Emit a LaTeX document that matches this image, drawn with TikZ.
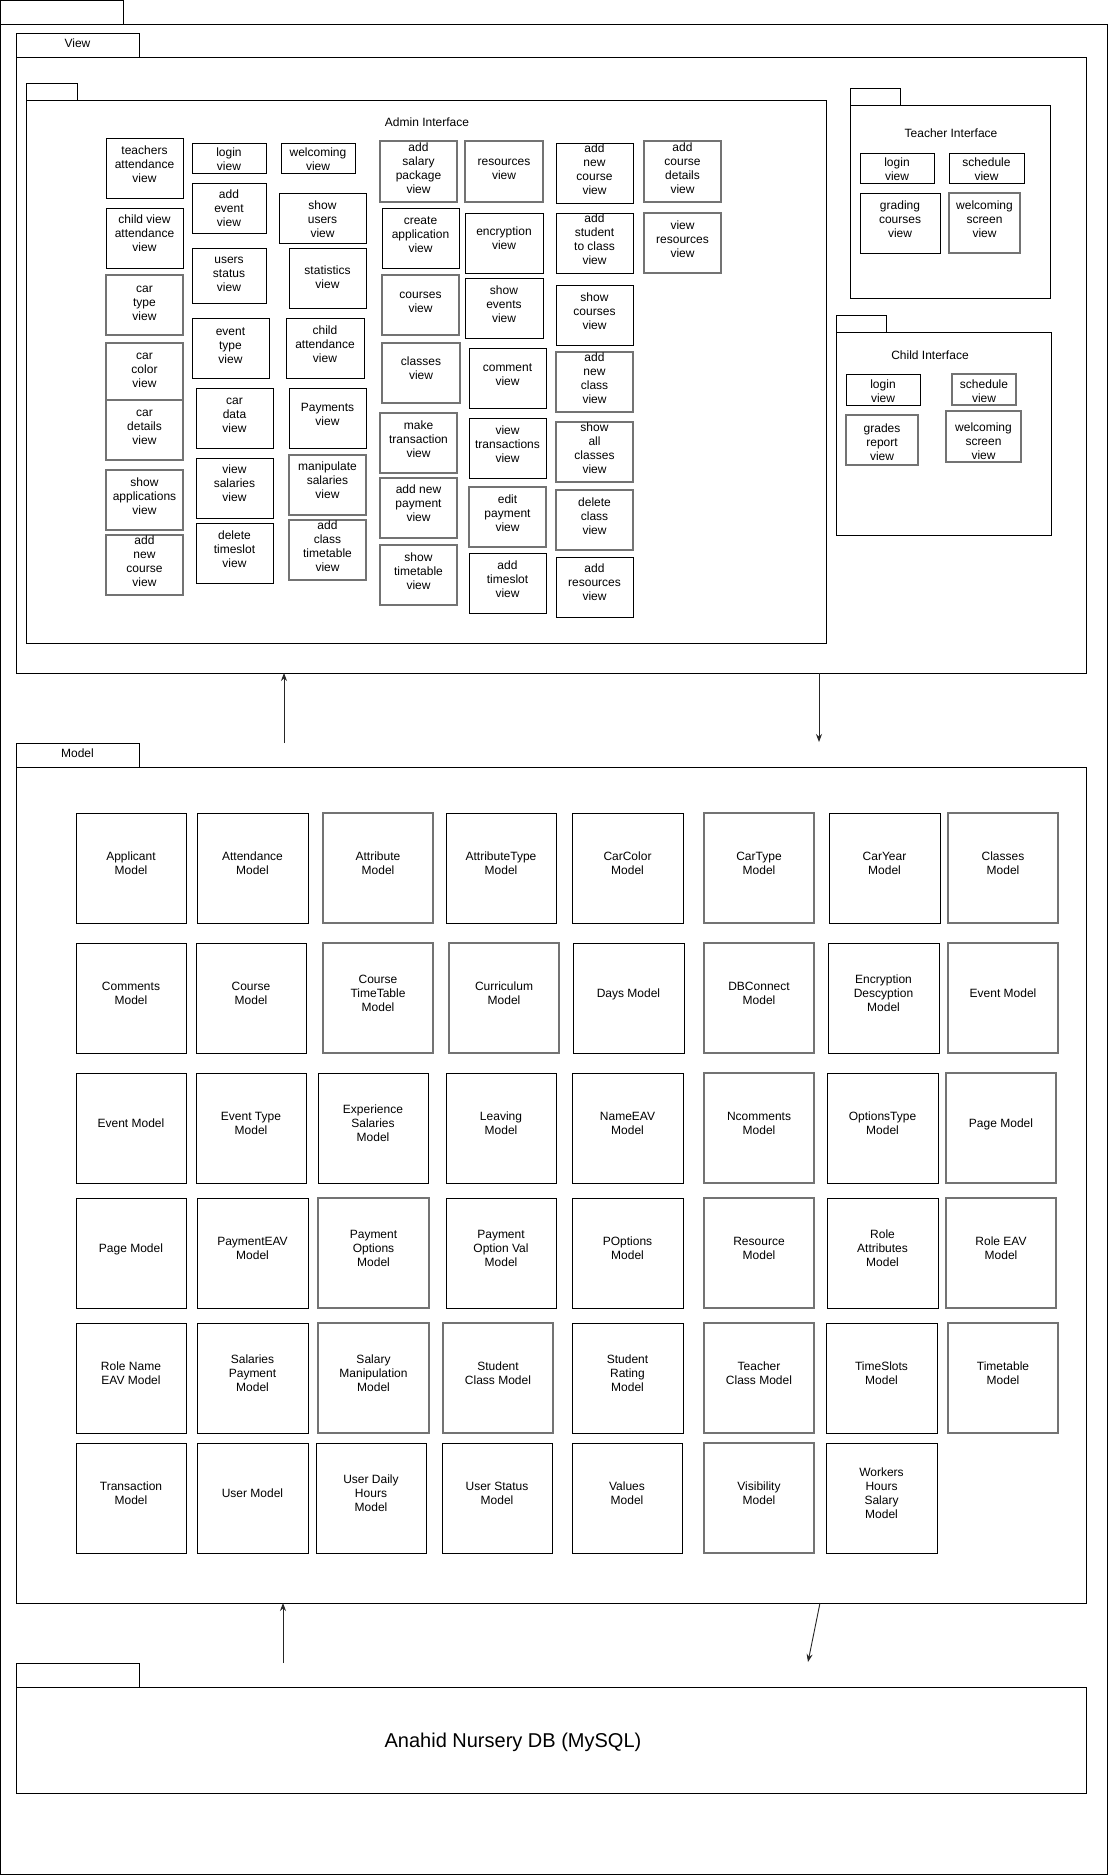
\documentclass[tikz,border=0pt]{standalone}
\usepackage{fontspec}
\setmainfont{Liberation Sans}
\usetikzlibrary{arrows.meta}

\tikzset{
  pkg/.style={draw=black, line width=1pt, inner sep=0pt, outer sep=0pt},
  vbox/.style={draw=black, line width=1pt, inner sep=0pt, outer sep=0pt},
  gbox/.style={draw=black!55, line width=1.3pt, inner sep=0pt, outer sep=0pt},
  lbl/.style={align=center, inner sep=0pt, font=\fontsize{12}{14}\selectfont,
    execute at begin node=\strut, execute at end node=\strut},
  arr/.style={draw=black!85, line width=0.9pt, -{Stealth[length=8pt,width=6pt]}},
}

% rectangle node from corner (x1,y1) to (x2,y2)
\newcommand\rectnode[6]{%
  \pgfmathsetmacro\pkW{#5-#3}\pgfmathsetmacro\pkH{#6-#4}%
  \node[#2, minimum width=\pkW pt, minimum height=\pkH pt] (#1) at ({(#3+#5)/2},{(#4+#6)/2}) {};}
% box with caption; optional argument raises the caption
\newcommand\vb[8][2pt]{%
  \rectnode{#2}{#3}{#4}{#5}{#6}{#7}%
  \node[lbl] (#2-t) at ([yshift=#1]#2.center) {#8};}

\begin{document}
\begin{tikzpicture}[x=1pt,y=-1pt]
\fill[white] (0,0) rectangle (1108,1875);
\useasboundingbox (0,0) rectangle (1108,1875);

% ---------- outer package ----------
\rectnode{outerTab}{pkg}{0.5}{0.5}{123}{24}
\rectnode{outer}{pkg}{0.5}{24}{1107.5}{1874}

% ---------- View package ----------
\rectnode{viewTab}{pkg}{16}{33}{139}{57}
\node[lbl] (viewName) at (viewTab.center) {View};
\rectnode{view}{pkg}{16}{57}{1086}{673}

% Admin interface
\rectnode{adminTab}{pkg}{26}{83}{77}{100}
\rectnode{admin}{pkg}{26}{100}{826}{643}
\node[lbl] (adminName) at (427,124) {Admin Interface};

\vb{a1}{vbox}{106}{138}{183}{198}{teachers\\attendance\\view}
\vb[2.5pt]{a2}{vbox}{106}{208}{183}{268}{child view\\attendance\\view}
\vb[-0.5pt]{a3}{gbox}{106}{275}{183}{335}{car\\type\\view}
\vb[-1pt]{a4}{gbox}{106}{343}{183}{400}{car\\color\\view}
\vb[0.5pt]{a5}{gbox}{106}{400}{183}{460}{car\\details\\view}
\vb{a6}{gbox}{106}{470}{183}{530}{show\\applications\\view}
\vb{a7}{gbox}{106}{535}{183}{595}{add\\new\\course\\view}

\vb[-3pt]{b1}{vbox}{192}{143}{266}{173}{login\\view}
\vb[-2.5pt]{b2}{vbox}{192}{183}{266}{233}{add\\event\\view}
\vb[-1.3pt]{b3}{vbox}{192}{248}{266}{303}{users\\status\\view}
\vb[0.5pt]{b4}{vbox}{192}{318}{269}{378}{event\\type\\view}
\vb[1pt]{b5}{vbox}{196}{388}{273}{448}{car\\data\\view}
\vb[2.5pt]{b6}{vbox}{196}{458}{273}{518}{view\\salaries\\view}
\vb{b7}{vbox}{196}{523}{273}{583}{delete\\timeslot\\view}

\vb[-3pt]{c1}{vbox}{281}{143}{355}{173}{welcoming\\view}
\vb[-3.5pt]{c2}{vbox}{279}{193}{366}{243}{show\\users\\view}
\vb[-1.2pt]{c3}{vbox}{289}{248}{366}{308}{statistics\\view}
\vb{c4}{vbox}{286}{318}{364}{378}{child\\attendance\\view}
\vb{c5}{vbox}{289}{388}{366}{448}{Payments\\view}
\vb[2.5pt]{c6}{gbox}{289}{455}{366}{515}{manipulate\\salaries\\view}
\vb{c7}{gbox}{289}{520}{366}{580}{add\\class\\timetable\\view}

\vb[1pt]{d1}{gbox}{380}{141}{457}{202}{add\\salary\\package\\view}
\vb[1.5pt]{d2}{vbox}{382}{208}{459}{268}{create\\application\\view}
\vb[0.5pt]{d3}{gbox}{382}{275}{459}{335}{courses\\view}
\vb[2.5pt]{d4}{gbox}{382}{343}{460}{403}{classes\\view}
\vb{d5}{gbox}{380}{413}{457}{473}{make\\transaction\\view}
\vb[2.5pt]{d6}{gbox}{380}{478}{457}{538}{add new\\payment\\view}
\vb{d7}{gbox}{380}{545}{457}{605}{show\\timetable\\view}

\vb[0pt]{e1}{gbox}{465}{141}{543}{202}{resources\\view}
\vb[2.5pt]{e2}{vbox}{465}{213}{543}{273}{encryption\\view}
\vb{e3}{vbox}{465}{278}{543}{338}{show\\events\\view}
\vb[1.5pt]{e4}{vbox}{469}{348}{546}{408}{comment\\view}
\vb{e5}{vbox}{469}{418}{546}{478}{view\\transactions\\view}
\vb{e6}{gbox}{469}{487}{546}{547}{edit\\payment\\view}
\vb{e7}{vbox}{469}{553}{546}{613}{add\\timeslot\\view}

\vb{f1}{vbox}{556}{143}{633}{203}{add\\new\\course\\view}
\vb{f2}{vbox}{556}{213}{633}{273}{add\\student\\to class\\view}
\vb{f3}{vbox}{556}{285}{633}{345}{show\\courses\\view}
\vb{f4}{gbox}{556}{352}{633}{412}{add\\new\\class\\view}
\vb{f5}{gbox}{556}{422}{633}{482}{show\\all\\classes\\view}
\vb{f6}{gbox}{556}{490}{633}{550}{delete\\class\\view}
\vb[3pt]{f7}{vbox}{556}{557}{633}{617}{add\\resources\\view}

\vb[1.5pt]{g1}{gbox}{644}{141}{721}{202}{add\\course\\details\\view}
\vb{g2}{gbox}{644}{213}{721}{273}{view\\resources\\view}

% Teacher interface
\rectnode{teacherTab}{pkg}{850}{88}{900}{105}
\rectnode{teacher}{pkg}{850}{105}{1050}{298}
\node[lbl] (teacherName) at (951,135) {Teacher Interface};
\vb[-3pt]{t1}{vbox}{860}{153}{934}{183}{login\\view}
\vb[-3pt]{t2}{vbox}{949}{153}{1024}{183}{schedule\\view}
\vb[1.5pt]{t3}{vbox}{860}{193}{940}{253}{grading\\courses\\view}
\vb[2pt]{t4}{gbox}{949}{193}{1020}{253}{welcoming\\screen\\view}

% Child interface
\rectnode{childTab}{pkg}{836}{315}{886}{332}
\rectnode{child}{pkg}{836}{332}{1051}{535}
\node[lbl] (childName) at (930,357) {Child Interface};
\vb[-4pt]{h1}{vbox}{846}{374}{920}{405}{login\\view}
\vb[-4pt]{h2}{gbox}{952}{374}{1016}{405}{schedule\\view}
\vb[-4.5pt]{h3}{gbox}{846}{415}{918}{465}{grades\\report\\view}
\vb[-6.5pt]{h4}{gbox}{946}{411}{1021}{462}{welcoming\\screen\\view}

% ---------- Model package ----------
\rectnode{modelTab}{pkg}{16}{743}{139}{767}
\node[lbl] (modelName) at (modelTab.center) {Model};
\rectnode{model}{pkg}{16}{767}{1086}{1603}

% row 1
\vb[2.5pt]{m11}{vbox}{76}{813}{186}{923}{Applicant\\Model}
\vb[2.5pt]{m12}{vbox}{197}{813}{308}{923}{Attendance\\Model}
\vb[2.5pt]{m13}{gbox}{323}{813}{433}{923}{Attribute\\Model}
\vb[2.5pt]{m14}{vbox}{446}{813}{556}{923}{AttributeType\\Model}
\vb[2.5pt]{m15}{vbox}{572}{813}{683}{923}{CarColor\\Model}
\vb[2.5pt]{m16}{gbox}{704}{813}{814}{923}{CarType\\Model}
\vb[2.5pt]{m17}{vbox}{829}{813}{940}{923}{CarYear\\Model}
\vb[2.5pt]{m18}{gbox}{948}{813}{1058}{923}{Classes\\Model}
% row 2
\vb[2.5pt]{m21}{vbox}{76}{943}{186}{1053}{Comments\\Model}
\vb[2.5pt]{m22}{vbox}{196}{943}{306}{1053}{Course\\Model}
\vb[2.5pt]{m23}{gbox}{323}{943}{433}{1053}{Course\\TimeTable\\Model}
\vb[2.5pt]{m24}{gbox}{449}{943}{559}{1053}{Curriculum\\Model}
\vb[3pt]{m25}{vbox}{573}{943}{684}{1053}{Days Model}
\vb[2.5pt]{m26}{gbox}{704}{943}{814}{1053}{DBConnect\\Model}
\vb[2.5pt]{m27}{vbox}{828}{943}{939}{1053}{Encryption\\Descyption\\Model}
\vb[3pt]{m28}{gbox}{948}{943}{1058}{1053}{Event Model}
% row 3
\vb[3pt]{m31}{vbox}{76}{1073}{186}{1183}{Event Model}
\vb[2.5pt]{m32}{vbox}{196}{1073}{306}{1183}{Event Type\\Model}
\vb[2.5pt]{m33}{vbox}{318}{1073}{428}{1183}{Experience\\Salaries\\Model}
\vb[2.5pt]{m34}{vbox}{446}{1073}{556}{1183}{Leaving\\Model}
\vb[2.5pt]{m35}{vbox}{572}{1073}{683}{1183}{NameEAV\\Model}
\vb[2.5pt]{m36}{gbox}{704}{1073}{814}{1183}{Ncomments\\Model}
\vb[2.5pt]{m37}{vbox}{827}{1073}{938}{1183}{OptionsType\\Model}
\vb[3pt]{m38}{gbox}{946}{1073}{1056}{1183}{Page Model}
% row 4
\vb[3pt]{m41}{vbox}{76}{1198}{186}{1308}{Page Model}
\vb[2.5pt]{m42}{vbox}{197}{1198}{308}{1308}{PaymentEAV\\Model}
\vb[2.5pt]{m43}{gbox}{318}{1198}{429}{1308}{Payment\\Options\\Model}
\vb[2.5pt]{m44}{vbox}{446}{1198}{556}{1308}{Payment\\Option Val\\Model}
\vb[2.5pt]{m45}{vbox}{572}{1198}{683}{1308}{POptions\\Model}
\vb[2.5pt]{m46}{gbox}{704}{1198}{814}{1308}{Resource\\Model}
\vb[2.5pt]{m47}{vbox}{827}{1198}{938}{1308}{Role\\Attributes\\Model}
\vb[2.5pt]{m48}{gbox}{946}{1198}{1056}{1308}{Role EAV\\Model}
% row 5
\vb[2.5pt]{m51}{vbox}{76}{1323}{186}{1433}{Role Name\\EAV Model}
\vb[2.5pt]{m52}{vbox}{197}{1323}{308}{1433}{Salaries\\Payment\\Model}
\vb[2.5pt]{m53}{gbox}{318}{1323}{429}{1433}{Salary\\Manipulation\\Model}
\vb[2.5pt]{m54}{gbox}{443}{1323}{553}{1433}{Student\\Class Model}
\vb[2.5pt]{m55}{vbox}{572}{1323}{683}{1433}{Student\\Rating\\Model}
\vb[2.5pt]{m56}{gbox}{704}{1323}{814}{1433}{Teacher\\Class Model}
\vb[2.5pt]{m57}{vbox}{826}{1323}{937}{1433}{TimeSlots\\Model}
\vb[2.5pt]{m58}{gbox}{948}{1323}{1058}{1433}{Timetable\\Model}
% row 6
\vb[2.5pt]{m61}{vbox}{76}{1443}{186}{1553}{Transaction\\Model}
\vb[3pt]{m62}{vbox}{197}{1443}{308}{1553}{User Model}
\vb[2.5pt]{m63}{vbox}{316}{1443}{426}{1553}{User Daily\\Hours\\Model}
\vb[2.5pt]{m64}{vbox}{442}{1443}{552}{1553}{User Status\\Model}
\vb[2.5pt]{m65}{vbox}{572}{1443}{682}{1553}{Values\\Model}
\vb[2.5pt]{m66}{gbox}{704}{1443}{814}{1553}{Visibility\\Model}
\vb[2.5pt]{m67}{vbox}{826}{1443}{937}{1553}{Workers\\Hours\\Salary\\Model}

% ---------- Database package ----------
\rectnode{dbTab}{pkg}{16}{1663}{139}{1687}
\rectnode{db}{pkg}{16}{1687}{1086}{1793}
\node[inner sep=0pt, font=\fontsize{20}{24}\selectfont] (dbName) at (513,1742) {Anahid Nursery DB (MySQL)};

% ---------- dependencies between layers ----------
\coordinate (modelUp) at (284,743);
\coordinate (viewDown) at (819,742);
\coordinate (dbUp) at (283,1663);
\coordinate (modelOut) at (820,1603);
\coordinate (dbIn) at (808,1662);
\draw[arr] (modelUp) -- (modelUp |- view.south);
\draw[arr] (viewDown |- view.south) -- (viewDown);
\draw[arr] (dbUp) -- (dbUp |- model.south);
\draw[arr] (modelOut |- model.south) -- (dbIn);
\end{tikzpicture}
\end{document}
